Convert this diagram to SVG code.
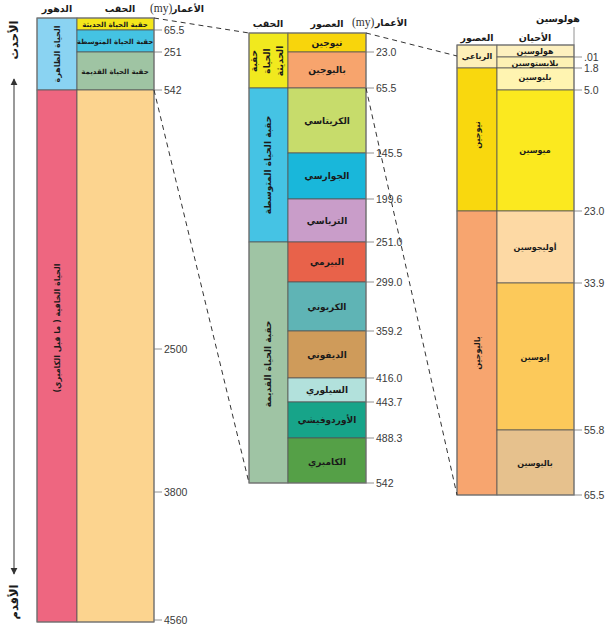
<svg xmlns="http://www.w3.org/2000/svg" width="605" height="628" viewBox="0 0 605 628">
<style>
.ar{font-family:"DejaVu Sans",sans-serif;font-weight:bold;fill:#1a1a1a;text-anchor:middle;direction:rtl}
.hd{font-size:9.5px}
.lb{font-size:9px}
.sm{font-size:8px}
.xs{font-size:7px}
.num{font-family:"Liberation Sans",Arial,sans-serif;font-size:10.5px;fill:#3a3a3a}
.my{font-family:"Liberation Serif","Times New Roman",serif;font-size:11.5px;fill:#333}
.cell{stroke:#555;stroke-width:0.8}
.box{fill:none;stroke:#777;stroke-width:1}
.tick{stroke:#777;stroke-width:0.8}
.dash{stroke:#333;stroke-width:1;stroke-dasharray:5 4;fill:none}
</style>
<defs>
<marker id="ah" viewBox="0 0 10 10" refX="9" refY="5" markerWidth="6" markerHeight="7" orient="auto-start-reverse">
<path d="M0,0 L10,5 L0,10 z" fill="#333"/>
</marker>
</defs>
<rect width="605" height="628" fill="#fff"/>

<g id="arrow">
<line x1="14" y1="79" x2="14" y2="574" stroke="#555" stroke-width="1.2" marker-start="url(#ah)" marker-end="url(#ah)"/>
<text class="ar" style="font-size:11.5px" transform="translate(18,40) rotate(-90)">الأحدث</text>
<text class="ar" style="font-size:11.5px" transform="translate(18,602) rotate(-90)">الأقدم</text>
</g>

<g id="left-headers">
<text class="ar hd" x="57" y="12">الدهور</text>
<text class="ar hd" x="120" y="12">الحقب</text>
<text class="my" x="150" y="12">(my)</text>
<text class="ar hd" x="188" y="12">الأعمار</text>
</g>
<g id="phanerozoic">
<rect class="cell" x="37" y="18" width="40" height="72" fill="#8ad3f2"/>
<text class="ar sm" transform="translate(60,54) rotate(-90)">الحياة الظاهرة</text>
</g>
<g id="cenozoic-l">
<rect class="cell" x="77" y="18" width="77" height="12" fill="#f4e71b"/>
<text class="ar xs" x="115" y="27">حقبة الحياة الحديثة</text>
</g>
<g id="mesozoic-l">
<rect class="cell" x="77" y="30" width="77" height="22" fill="#44c3e3"/>
<text class="ar xs" x="115" y="44">حقبة الحياة المتوسطة</text>
</g>
<g id="paleozoic-l">
<rect class="cell" x="77" y="52" width="77" height="38" fill="#9fc4a3"/>
<text class="ar xs" x="115" y="74">حقبة الحياة القديمة</text>
</g>
<g id="precambrian">
<rect class="cell" x="37" y="90" width="40" height="532" fill="#ee6680"/>
<rect class="cell" x="77" y="90" width="77" height="532" fill="#fcd48f"/>
<text class="ar sm" transform="translate(60,328) rotate(-90)">الحياة الخافية ( ما قبل الكامبري)</text>
</g>
<rect class="box" x="37" y="18" width="117" height="604"/>
<g id="left-ticks">
<line class="tick" x1="154" y1="30" x2="162" y2="30"/>
<line class="tick" x1="154" y1="52" x2="162" y2="52"/>
<line class="tick" x1="154" y1="90" x2="162" y2="90"/>
<line class="tick" x1="154" y1="349" x2="162" y2="349"/>
<line class="tick" x1="154" y1="492" x2="162" y2="492"/>
<line class="tick" x1="154" y1="620" x2="162" y2="620"/>
<text class="num" x="164" y="34">65.5</text>
<text class="num" x="164" y="56">251</text>
<text class="num" x="164" y="94">542</text>
<text class="num" x="164" y="353">2500</text>
<text class="num" x="164" y="496">3800</text>
<text class="num" x="164" y="624">4560</text>
</g>

<g id="mid-headers">
<text class="ar hd" x="268" y="27">الحقب</text>
<text class="ar hd" x="327" y="27">العصور</text>
<text class="my" x="352" y="26">(my)</text>
<text class="ar hd" x="391" y="26">الأعمار</text>
</g>
<g id="cenozoic-m">
<rect class="cell" x="249" y="33" width="39" height="55" fill="#f1e91e"/>
<text class="ar lb" transform="translate(257,61) rotate(-90)">حقبة</text>
<text class="ar lb" transform="translate(270,61) rotate(-90)">الحياة</text>
<text class="ar lb" transform="translate(283,61) rotate(-90)">الحديثة</text>
</g>
<g id="mesozoic-m">
<rect class="cell" x="249" y="88" width="39" height="154" fill="#45c3e4"/>
<text class="ar lb" transform="translate(271,165) rotate(-90)">حقبة الحياة المتوسطة</text>
</g>
<g id="paleozoic-m">
<rect class="cell" x="249" y="242" width="39" height="241" fill="#9fc4a4"/>
<text class="ar lb" transform="translate(271,364) rotate(-90)">حقبة الحياة القديمة</text>
</g>
<g id="neogene-m"><rect class="cell" x="288" y="33" width="78" height="19" fill="#f8d50c"/><text class="ar lb" x="327" y="46">نيوجين</text></g>
<g id="paleogene-m"><rect class="cell" x="288" y="52" width="78" height="36" fill="#f7a46d"/><text class="ar lb" x="327" y="73">باليوجين</text></g>
<g id="cretaceous"><rect class="cell" x="288" y="88" width="78" height="65" fill="#c7dc6b"/><text class="ar lb" x="327" y="124">الكريتاسي</text></g>
<g id="jurassic"><rect class="cell" x="288" y="153" width="78" height="46" fill="#19b7da"/><text class="ar lb" x="327" y="179">الجوارسي</text></g>
<g id="triassic"><rect class="cell" x="288" y="199" width="78" height="43" fill="#c99dc9"/><text class="ar lb" x="327" y="224">الترياسي</text></g>
<g id="permian"><rect class="cell" x="288" y="242" width="78" height="40" fill="#e8624a"/><text class="ar lb" x="327" y="265">البيرمي</text></g>
<g id="carboniferous"><rect class="cell" x="288" y="282" width="78" height="49" fill="#5fb4b5"/><text class="ar lb" x="327" y="310">الكربوني</text></g>
<g id="devonian"><rect class="cell" x="288" y="331" width="78" height="47" fill="#cf9b5a"/><text class="ar lb" x="327" y="358">الديفوني</text></g>
<g id="silurian"><rect class="cell" x="288" y="378" width="78" height="24" fill="#b2e1dc"/><text class="ar lb" x="327" y="393">السيلوري</text></g>
<g id="ordovician"><rect class="cell" x="288" y="402" width="78" height="36" fill="#17a489"/><text class="ar lb" x="327" y="423">الأوردوفيشي</text></g>
<g id="cambrian"><rect class="cell" x="288" y="438" width="78" height="45" fill="#55a047"/><text class="ar lb" x="327" y="465">الكامبري</text></g>
<rect class="box" x="249" y="33" width="117" height="450"/>
<g id="mid-ticks">
<line class="tick" x1="366" y1="52" x2="374" y2="52"/>
<line class="tick" x1="366" y1="88" x2="374" y2="88"/>
<line class="tick" x1="366" y1="153" x2="374" y2="153"/>
<line class="tick" x1="366" y1="199" x2="374" y2="199"/>
<line class="tick" x1="366" y1="242" x2="374" y2="242"/>
<line class="tick" x1="366" y1="282" x2="374" y2="282"/>
<line class="tick" x1="366" y1="331" x2="374" y2="331"/>
<line class="tick" x1="366" y1="378" x2="374" y2="378"/>
<line class="tick" x1="366" y1="402" x2="374" y2="402"/>
<line class="tick" x1="366" y1="438" x2="374" y2="438"/>
<line class="tick" x1="366" y1="483" x2="374" y2="483"/>
<text class="num" x="376" y="56">23.0</text>
<text class="num" x="376" y="92">65.5</text>
<text class="num" x="376" y="157">145.5</text>
<text class="num" x="376" y="203">199.6</text>
<text class="num" x="376" y="246">251.0</text>
<text class="num" x="376" y="286">299.0</text>
<text class="num" x="376" y="335">359.2</text>
<text class="num" x="376" y="382">416.0</text>
<text class="num" x="376" y="406">443.7</text>
<text class="num" x="376" y="442">488.3</text>
<text class="num" x="376" y="487">542</text>
</g>

<g id="right-headers">
<text class="ar hd" x="477" y="41">العصور</text>
<text class="ar hd" x="535" y="41">الأحيان</text>
<text class="ar hd" x="558" y="22">هولوسين</text>
<line class="tick" x1="574" y1="27" x2="574" y2="45"/>
</g>
<g id="quaternary"><rect class="cell" x="457" y="45" width="40" height="23" fill="#fdefb8"/><text class="ar sm" x="477" y="59">الرباعي</text></g>
<g id="neogene-r"><rect class="cell" x="457" y="68" width="40" height="143" fill="#f9d80e"/><text class="ar sm" transform="translate(480,135) rotate(-90)">نيوجين</text></g>
<g id="paleogene-r"><rect class="cell" x="457" y="211" width="40" height="284" fill="#f7a56f"/><text class="ar sm" transform="translate(480,353) rotate(-90)">باليوجين</text></g>
<g id="holocene"><rect class="cell" x="497" y="45" width="77" height="12" fill="#fdf0bf"/><text class="ar sm" x="535" y="54">هولوسين</text></g>
<g id="pleistocene"><rect class="cell" x="497" y="57" width="77" height="11" fill="#fdf1b4"/><text class="ar sm" x="535" y="65.5">بلايستوسين</text></g>
<g id="pliocene"><rect class="cell" x="497" y="68" width="77" height="22" fill="#fff4b1"/><text class="ar sm" x="535" y="80">بليوسين</text></g>
<g id="miocene"><rect class="cell" x="497" y="90" width="77" height="121" fill="#fbe91f"/><text class="ar sm" x="535" y="153">ميوسين</text></g>
<g id="oligocene"><rect class="cell" x="497" y="211" width="77" height="72" fill="#fdd9a4"/><text class="ar sm" x="535" y="250">أوليجوسين</text></g>
<g id="eocene"><rect class="cell" x="497" y="283" width="77" height="147" fill="#fcc95a"/><text class="ar sm" x="535" y="360">إيوسين</text></g>
<g id="paleocene"><rect class="cell" x="497" y="430" width="77" height="65" fill="#e6c18d"/><text class="ar sm" x="535" y="466">باليوسين</text></g>
<rect class="box" x="457" y="45" width="117" height="450"/>
<g id="right-ticks">
<line class="tick" x1="574" y1="57" x2="582" y2="57"/>
<line class="tick" x1="574" y1="68" x2="582" y2="68"/>
<line class="tick" x1="574" y1="90" x2="582" y2="90"/>
<line class="tick" x1="574" y1="211" x2="582" y2="211"/>
<line class="tick" x1="574" y1="283" x2="582" y2="283"/>
<line class="tick" x1="574" y1="430" x2="582" y2="430"/>
<line class="tick" x1="574" y1="495" x2="582" y2="495"/>
<text class="num" x="584" y="61">.01</text>
<text class="num" x="584" y="72">1.8</text>
<text class="num" x="584" y="94">5.0</text>
<text class="num" x="584" y="215">23.0</text>
<text class="num" x="584" y="287">33.9</text>
<text class="num" x="584" y="434">55.8</text>
<text class="num" x="584" y="499">65.5</text>
</g>

<g id="connectors">
<line class="dash" x1="154" y1="18" x2="249" y2="33"/>
<line class="dash" x1="154" y1="90" x2="249" y2="483"/>
<line class="dash" x1="366" y1="33" x2="457" y2="56"/>
<line class="dash" x1="366" y1="88" x2="457" y2="495"/>
</g>
</svg>
